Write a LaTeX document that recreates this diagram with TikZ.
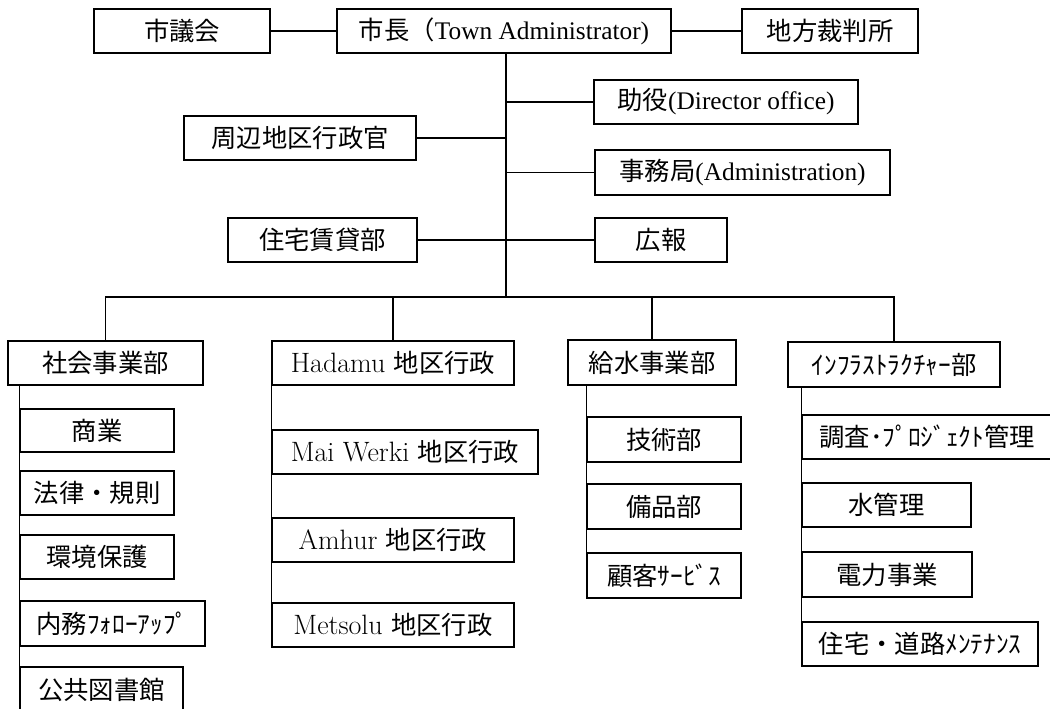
\documentclass[tikz,border=0pt]{standalone}
\usepackage{fontspec}
\newfontfamily\jp{Noto Sans CJK JP}
\newfontfamily\tms{Liberation Serif}
\newcommand\cent{\rmfamily\fontsize{21}{22}\selectfont\addfontfeature{FakeBold=0.6}}
\tikzset{
  orgbox/.style={draw,line width=0.8pt,inner sep=0pt,fill=white,
    font=\fontsize{19}{22}\selectfont\jp},
  thickbox/.style={line width=1.9pt},
  conn/.style={line width=1pt}
}
\newcommand\obox[7][]{%
  \pgfmathsetmacro\oboxw{(#5-#3)*0.75}%
  \pgfmathsetmacro\oboxh{(#6-#4)*0.75}%
  \node[orgbox,#1,minimum width=\oboxw pt,minimum height=\oboxh pt] (#2) at ({(#3+#5)/2},{(#4+#6)/2}) {#7};}
\begin{document}
\begin{tikzpicture}[x=0.75pt,y=-0.75pt]
\useasboundingbox (0,0) rectangle (1050,709);
% top level
\obox{council}{94}{9}{270}{53}{市議会}
\obox{mayor}{337}{9}{671}{53}{市長（{\tms Town Administrator)}}
\obox{court}{742}{9}{918}{53}{地方裁判所}
\obox{deputy}{594}{80}{858}{124}{助役{\tms (Director office)}}
\obox{suburb}{184}{116}{416}{160}{周辺地区行政官}
\obox{admin}{595}{150}{890}{195}{事務局{\tms (Administration)}}
\obox{rent}{228}{218}{417}{262}{住宅賃貸部}
\obox{pr}{595}{218}{727}{262}{広報}
% departments
\obox{social}{8}{341}{203}{385}{社会事業部}
\obox{hadamu}{272}{341}{514}{385}{{\cent Hadamu }地区行政}
\obox[thickbox]{water}{568}{340}{736}{385}{給水事業部}
\obox{infra}{788}{342}{1000}{387}{ｲﾝﾌﾗｽﾄﾗｸﾁｬｰ部}
% social sub
\obox{commerce}{20}{409}{174}{452}{商業}
\obox{law}{20}{471}{174}{515}{法律・規則}
\obox{env}{20}{535}{174}{579}{環境保護}
\obox{follow}{20}{601}{205}{646}{内務ﾌｫﾛｰｱｯﾌﾟ}
\obox{library}{20}{667}{183}{712}{公共図書館}
% districts
\obox{maiwerki}{272}{430}{538}{474}{{\cent Mai Werki }地区行政}
\obox{amhur}{272}{518}{514}{562}{{\cent Amhur }地区行政}
\obox{metsolu}{272}{603}{514}{647}{{\cent Metsolu }地区行政}
% water sub
\obox{tech}{587}{417}{741}{462}{技術部}
\obox{equip}{587}{484}{741}{529}{備品部}
\obox{customer}{587}{553}{741}{598}{顧客ｻｰﾋﾞｽ}
% infra sub
\obox{survey}{802}{415}{1052}{459}{調査･ﾌﾟﾛｼﾞｪｸﾄ管理}
\obox[thickbox]{watermg}{802}{483}{971}{527}{水管理}
\obox{power}{802}{552}{972}{597}{電力事業}
\obox{road}{802}{622}{1038}{666}{住宅・道路ﾒﾝﾃﾅﾝｽ}
% connectors
\coordinate (bus) at (506,297);
\draw[conn] (council.east) -- (mayor.west);
\draw[conn] (mayor.east) -- (court.west);
\draw[conn] (mayor.south -| bus) -- (bus);
\draw[conn] (deputy.west) -- (deputy.west -| bus);
\draw[conn] (suburb.east) -- (suburb.east -| bus);
\draw[conn] (admin.west) -- (admin.west -| bus);
\draw[conn] (rent.east) -- (pr.west);
\draw[conn] (social.north) -- (social.north |- bus) -- (infra.north |- bus) -- (infra.north);
\draw[conn] (hadamu.north) -- (hadamu.north |- bus);
\draw[conn] (water.north) -- (water.north |- bus);
\draw[conn] (social.south -| commerce.west) -- (library.west);
\draw[conn] (hadamu.south west) -- (metsolu.west);
\draw[conn] (water.south -| tech.west) -- (customer.south west);
\draw[conn] (infra.south -| survey.west) -- (road.south west);
\end{tikzpicture}
\end{document}
